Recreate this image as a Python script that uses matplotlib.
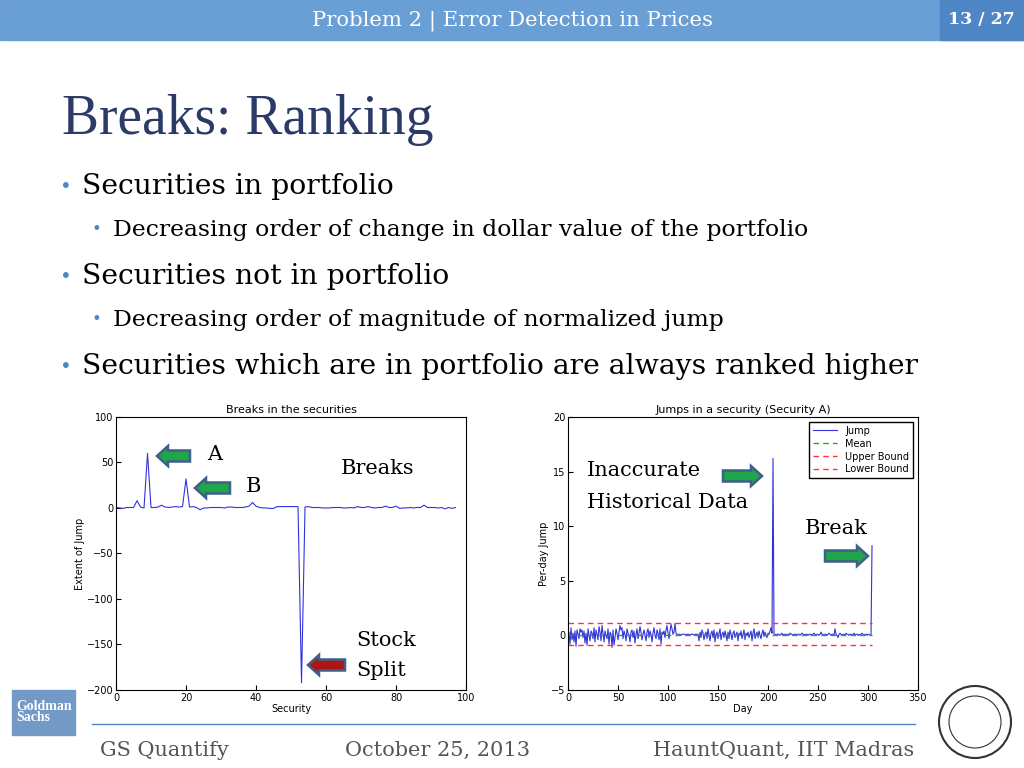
import matplotlib
matplotlib.use("Agg")
from matplotlib import pyplot as plt
from matplotlib.patches import Rectangle, FancyArrow, Circle

# ---- data ----
breaks = [0.5, 0, -0.5, 0.5, 0.5, 0.5, 8, 1, 0, 60,
          0.5, 0.5, 1, 3, 1, 0.5, 1, 1.5, 1, 1.5,
          32, 1, 1.5, 0.5, -2, 0, 0, 0.5, 0.5, 0.5,
          0.5, 0, 1, 1, 0.5, 0.5, 0.5, 1, 2, 6,
          2, 0.5, 0, 0, -0.5, -0.5, 1.5, 1.5, 1.5, 1.5,
          1.5, 1.5, 1.5, -192, 1, 1.5, 0.5, 0.5, 0.5, 0,
          0, 0, 0.5, 0.5, 0.5, 0, 0, 0.5, 0, 1.5,
          0.5, 0.5, 1.5, 0.5, 0, 0.5, 0.5, 2, 0.5, 0.5,
          2, -0.5, 0, 0, 0.5, 0, 0.5, 0.5, 3, 0.5,
          0.5, 0.5, 0, 0.5, -1, 0.5, -0.5, 0.5]

jump = [-1.1, 0.3, -0.8, 0.7, -0.4, 0.2, -0.6, 0.4, -1.0, 0.5,
        0.1, -0.3, 0.6, 0.3, 0.5, -0.2, 0.4, -0.7, 0.2, -0.9,
        0.6, 0.0, -0.5, 0.4, 0.2, -0.3, 0.7, -0.6, 0.5, 0.1,
        -0.4, 0.8, 0.3, -0.5, 0.9, 0.2, -0.6, 0.4, 0.0, -0.3,
        0.6, -0.8, 0.3, 0.1, -1.1, 0.5, -0.9, -0.2, 0.6, 0.2,
        -0.4, 0.3, 0.9, 0.5, 0.7, -0.3, 0.4, 0.1, -0.5, 0.6,
        0.2, 0.0, -0.6, 0.3, 0.5, -0.2, 0.4, -0.7, 0.1, 0.6,
        -0.3, 0.2, 0.8, 0.3, -0.4, 0.1, 0.5, 0.0, -0.5, 0.3,
        0.6, -0.2, 0.4, 0.1, -0.6, 0.2, 0.7, 0.0, -0.3, 0.5,
        0.2, -0.4, 0.6, -0.8, 0.3, 0.1, 0.4, -0.2, 0.5, 0.9,
        0.2, -0.3, 0.4, 1.0, 0.6, 0.1, 0.3, 1.1, 0.2, 0.1,
        0.1, 0.1, 0.1, 0.0, 0.1, 0.1, 0.1, 0.1, 0.0, 0.1,
        0.1, 0.1, 0.0, 0.1, 0.1, 0.1, 0.0, 0.1, 0.1, 0.1,
        0.1, -0.5, 0.3, -0.2, 0.5, 0.2, -0.4, 0.1, 0.3, -0.3,
        0.6, 0.0, -0.5, 0.2, 0.4, -0.2, 0.5, -0.6, 0.1, 0.3,
        -0.3, 0.2, 0.6, -0.4, 0.1, 0.3, -0.2, 0.4, 0.0, -0.5,
        0.3, -0.3, 0.5, 0.1, -0.4, 0.2, 0.4, -0.2, 0.1, 0.3,
        -0.5, 0.2, 0.0, 0.4, -0.3, 0.1, 0.5, -0.4, 0.2, 0.0,
        0.3, -0.2, 0.1, 0.4, -0.5, 0.2, 0.6, -0.3, 0.1, 0.3,
        -0.2, 0.4, 0.0, -0.3, 0.2, 0.5, -0.1, 0.3, 0.0, -0.2,
        0.2, 0.1, 0.4, 0.7, 0.2, 16.2, 0.1, 0.1, 0.0, 0.1,
        0.1, 0.1, 0.0, 0.1, 0.2, 0.0, 0.1, 0.1, 0.0, 0.1,
        0.1, 0.0, 0.2, 0.1, 0.1, 0.0, 0.1, 0.1, 0.1, 0.0,
        0.1, 0.1, 0.0, 0.1, 0.2, 0.1, 0.1, 0.0, 0.1, 0.1,
        0.0, 0.1, 0.1, 0.0, 0.1, 0.1, 0.2, 0.1, 0.0, 0.1,
        0.1, 0.0, 0.1, 0.3, 0.1, 0.1, 0.0, 0.1, 0.1, 0.0,
        0.1, 0.2, 0.1, 0.0, 0.1, 0.1, 0.0, 0.6, 0.1, 0.0,
        -0.2, 0.1, 0.2, 0.1, 0.0, 0.1, 0.1, 0.0, 0.2, 0.1,
        0.1, 0.0, 0.1, 0.1, 0.0, 0.1, 0.2, 0.0, 0.1, 0.1,
        0.0, 0.1, 0.0, 0.1, 0.2, 0.1, 0.0, 0.1, 0.1, 0.0,
        0.1, 0.1, 0.0, 0.0, 8.2]
mean_val = 0.0
upper = 1.1
lower = -0.9

serif = "DejaVu Serif"
navy = "#2b3a67"

fig = plt.figure(figsize=(10.24, 7.68), dpi=100)
bg = fig.add_axes([0, 0, 1, 1], zorder=0)
bg.set_xlim(0, 1024)
bg.set_ylim(768, 0)
bg.axis("off")

# header bar
bg.add_patch(Rectangle((0, 0), 1024, 40, color="#6a9fd6"))
bg.add_patch(Rectangle((940, 0), 84, 40, color="#4f86c6"))
bg.text(512, 21, "Problem 2 | Error Detection in Prices", color="white",
        fontsize=15.3, family=serif, ha="center", va="center")
bg.text(981, 19, "13 / 27", color="white", fontsize=12.5, family=serif,
        ha="center", va="center", weight="bold")

bg.text(62, 120, "Breaks: Ranking", color=navy, fontsize=40,
        family="Liberation Serif", va="center")
bullets = [(60, 82, 186, "Securities in portfolio", 20.3),
           (92, 113, 230, "Decreasing order of change in dollar value of the portfolio", 16.9),
           (60, 82, 276, "Securities not in portfolio", 20.3),
           (92, 113, 320, "Decreasing order of magnitude of normalized jump", 16.9),
           (60, 82, 366, "Securities which are in portfolio are always ranked higher", 20.3)]
for bx, tx, y, txt, fs in bullets:
    bg.text(bx, y, "\u2022", color="#4f86c6", fontsize=fs * 0.7, va="center")
    bg.text(tx, y, txt, color="black", fontsize=fs, family=serif, va="center")

# footer
bg.plot([92, 915], [724, 724], color="#4f86c6", lw=1)
bg.text(100, 750, "GS Quantify", color="#555555", fontsize=15, family=serif, va="center")
bg.text(345, 750, "October 25, 2013", color="#555555", fontsize=15, family=serif, va="center")
bg.text(914, 750, "HauntQuant, IIT Madras", color="#555555", fontsize=15, family=serif,
        va="center", ha="right")
bg.add_patch(Rectangle((12, 690), 63, 45, color="#7399c6"))
bg.text(16, 712, "Goldman\nSachs", color="white", fontsize=10, family="Liberation Serif",
        weight="bold", va="center", linespacing=0.85)
bg.add_patch(Circle((975, 722), 36, fill=False, ec="#333333", lw=1.5))
bg.add_patch(Circle((975, 722), 26, fill=False, ec="#333333", lw=0.8))

# left chart
ax1 = fig.add_axes([0.1133, 0.1016, 0.3418, 0.3555], zorder=1)
ax1.plot(range(len(breaks)), breaks, color="#3333dd", lw=0.8)
ax1.set_xlim(0, 100)
ax1.set_ylim(-200, 100)
ax1.set_title("Breaks in the securities", fontsize=8, pad=3)
ax1.set_xlabel("Security", fontsize=7, labelpad=1)
ax1.set_ylabel("Extent of Jump", fontsize=7, labelpad=1)
ax1.tick_params(labelsize=7, direction="in", pad=2)

# right chart
ax2 = fig.add_axes([0.5547, 0.1016, 0.3418, 0.3555], zorder=1)
days = range(len(jump))
end = len(jump) - 1
ax2.plot(days, jump, color="#3333dd", lw=0.8, label="Jump")
ax2.plot([0, end], [mean_val, mean_val], color="#2ca02c", ls=(0, (4, 3)), lw=1, label="Mean")
ax2.plot([0, end], [upper, upper], color="#ff3333", ls=(0, (4, 3)), lw=1, label="Upper Bound")
ax2.plot([0, end], [lower, lower], color="#ff3333", ls=(0, (4, 3)), lw=1, label="Lower Bound")
ax2.set_xlim(0, 350)
ax2.set_ylim(-5, 20)
ax2.set_title("Jumps in a security (Security A)", fontsize=8, pad=3)
ax2.set_xlabel("Day", fontsize=7, labelpad=1)
ax2.set_ylabel("Per-day Jump", fontsize=7, labelpad=1)
ax2.tick_params(labelsize=7, direction="in", pad=2)
ax2.legend(loc="upper right", fontsize=7, fancybox=False, edgecolor="black",
           handlelength=2.5, borderpad=0.4, labelspacing=0.3, framealpha=1)

# annotation layer above the charts
top = fig.add_axes([0, 0, 1, 1], zorder=2)
top.set_xlim(0, 1024)
top.set_ylim(768, 0)
top.axis("off")
top.patch.set_alpha(0)

def arrow(x0, y0, x1, color):
    top.add_patch(FancyArrow(x0, y0, x1 - x0, 0, width=11, head_width=20,
                             head_length=11, length_includes_head=True,
                             fc=color, ec="#3f5f8a", lw=1.8))

arrow(190, 456, 157, "#1fa64a")
arrow(230, 488, 195, "#1fa64a")
arrow(345, 665, 308, "#b01515")
arrow(723, 476, 762, "#1fa64a")
arrow(825, 556, 868, "#1fa64a")
top.text(207, 455, "A", fontsize=15, family=serif, va="center")
top.text(246, 487, "B", fontsize=15, family=serif, va="center")
top.text(341, 469, "Breaks", fontsize=15, family=serif, va="center")
top.text(356, 640, "Stock", fontsize=15, family=serif, va="center")
top.text(356, 671, "Split", fontsize=15, family=serif, va="center")
top.text(587, 471, "Inaccurate", fontsize=15, family=serif, va="center")
top.text(587, 502, "Historical Data", fontsize=15, family=serif, va="center")
top.text(805, 528, "Break", fontsize=15, family=serif, va="center")

fig.savefig("out.png", dpi=100)
